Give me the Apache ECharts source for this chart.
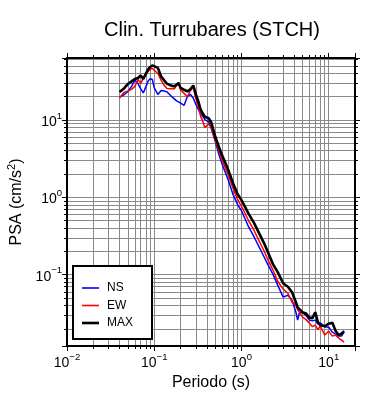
<!DOCTYPE html>
<html>
<head>
<meta charset="utf-8">
<title>Clin. Turrubares (STCH)</title>
<script src="https://cdn.jsdelivr.net/npm/echarts@6/dist/echarts.min.js"></script>
<style>
  body { margin: 0; background: #fff; }
  #main { width: 390px; height: 400px; }
</style>
</head>
<body>
<div id="main"></div>
<script type="text/javascript">
// periodos (s)
var periodos = [0.04, 0.045, 0.05, 0.055, 0.06, 0.065, 0.07, 0.075, 0.08, 0.085, 0.09, 0.095,
  0.1, 0.11, 0.12, 0.13, 0.14, 0.15, 0.16, 0.17, 0.18, 0.19, 0.2,
  0.22, 0.24, 0.26, 0.28, 0.3, 0.32, 0.34, 0.36, 0.38, 0.4,
  0.42, 0.45, 0.5, 0.55, 0.6, 0.7, 0.8, 0.9, 1.0,
  1.2, 1.4, 1.6, 1.8, 2.0, 2.3, 2.6, 3.0,
  3.4, 3.8, 4.2, 4.4, 4.6, 5.0, 5.5, 6.0, 6.5, 7.0, 7.5, 8.0,
  9, 10, 11, 12, 13, 14, 15];

// PSA (cm/s2)
var ns = [19.7, 21.1, 23.3, 27.1, 32.8, 29.6, 25.1, 22.3, 26.7, 31.8, 34.0, 33.3,
  25.9, 21.3, 24.0, 23.6, 23.0, 21.3, 19.8, 18.7, 17.6, 17.1, 16.8,
  15.4, 20.1, 21.3, 19.2, 15.8, 13.6, 12.1, 11.1, 10.1, 9.57,
  9.42, 7.76, 5.3, 3.59, 2.67, 1.71, 1.09, 0.81, 0.67,
  0.42, 0.305, 0.226, 0.173, 0.136, 0.101, 0.0733, 0.0513,
  0.0543, 0.0469, 0.033, 0.0259, 0.0318, 0.0328, 0.0296, 0.0259, 0.0255, 0.0259, 0.023, 0.0239,
  0.0213, 0.021, 0.0181, 0.0171, 0.0161, 0.0161, 0.0181];

var ew = [19.2, 22.6, 23.7, 24.8, 27.1, 33.3, 29.6, 34.3, 38.1, 42.3, 44.9, 46.2,
  45.8, 39.8, 32.4, 27.9, 25.5, 25.3, 25.5, 25.1, 27.9, 30.5, 24.4,
  22.0, 19.8, 24.0, 26.7, 18.9, 14.9, 11.1, 9.56, 8.0, 7.9,
  8.8, 8.1, 5.43, 4.04, 3.0, 1.98, 1.31, 0.94, 0.766,
  0.505, 0.37, 0.27, 0.207, 0.158, 0.114, 0.0824, 0.065,
  0.0577, 0.0442, 0.0398, 0.0353, 0.0328, 0.0283, 0.0263, 0.0237, 0.0213, 0.0223, 0.0195, 0.0216,
  0.0166, 0.0187, 0.0161, 0.0166, 0.0152, 0.0143, 0.0135];

var maxv = [22.9, 25.5, 29.2, 31.4, 33.8, 34.8, 37.5, 33.8, 39.4, 44.9, 48.3, 50.5,
  51.3, 46.9, 36.4, 32.4, 29.3, 28.3, 27.6, 27.1, 28.3, 30.0, 25.9,
  24.5, 23.3, 24.8, 27.9, 21.3, 17.3, 13.6, 12.1, 11.0, 10.8,
  10.5, 9.3, 6.1, 4.5, 3.48, 2.30, 1.52, 1.1, 0.92,
  0.62, 0.46, 0.339, 0.26, 0.198, 0.136, 0.108, 0.0776,
  0.070, 0.0594, 0.0442, 0.0378, 0.0364, 0.0328, 0.0316, 0.0279, 0.0275, 0.0328, 0.0244, 0.0223,
  0.0216, 0.0233, 0.0239, 0.0187, 0.0166, 0.0173, 0.0187];

var xMin = 0.01, xMax = 20;
var yMin = 0.012, yMax = 63;

var FONT = 'Liberation Sans';
var GRIS = '#8a8a8a';

// etiqueta 10^n con superindice
function potencia(v) {
    var e = Math.log10(v), n = Math.round(e);
    if (Math.abs(e - n) > 1e-6) return '';
    return '{b|10}{s|' + (n < 0 ? '\u2212' + (-n) : n) + '}';
}

var richSup = {
    b: { fontSize: 14, fontFamily: FONT, color: '#000', lineHeight: 18, verticalAlign: 'bottom' },
    s: { fontSize: 9.5, fontFamily: FONT, color: '#000', lineHeight: 18, verticalAlign: 'top' }
};

function ejeLog(pos, min, max, principal) {
    return {
        type: 'log',
        logBase: 10,
        position: pos,
        min: min,
        max: max,
        axisLine: { show: true, onZero: false, lineStyle: { color: '#000', width: 2 } },
        axisTick: { show: true, inside: false, length: 5, lineStyle: { color: '#000', width: 1 } },
        minorTick: { show: true, splitNumber: 9, length: 3, lineStyle: { color: '#000', width: 1 } },
        splitLine: { show: principal, lineStyle: { color: GRIS, width: 1 } },
        minorSplitLine: { show: principal, lineStyle: { color: GRIS, width: 1 } },
        axisLabel: { show: principal, formatter: potencia, rich: richSup, margin: 6 }
    };
}

var myChart = echarts.init(document.getElementById('main'));

var ejeX = ejeLog('bottom', xMin, xMax, true);
ejeX.name = 'Periodo (s)';
ejeX.nameLocation = 'middle';
ejeX.nameGap = 27;
ejeX.nameTextStyle = { fontSize: 16, fontFamily: FONT, color: '#000' };

var ejeY = ejeLog('left', yMin, yMax, true);
ejeY.name = 'PSA (cm/s{s|2})';
ejeY.nameLocation = 'middle';
ejeY.nameGap = 38;
ejeY.nameTextStyle = {
    fontSize: 16, fontFamily: FONT, color: '#000',
    rich: { s: { fontSize: 11, fontFamily: FONT, color: '#000', verticalAlign: 'top', lineHeight: 20 } }
};
ejeY.axisLabel.margin = 5;

var option = {
    animation: false,
    backgroundColor: '#fff',
    textStyle: { fontFamily: FONT },
    title: {
        text: 'Clin. Turrubares (STCH)',
        left: 104,
        top: 20,
        padding: 0,
        textStyle: { fontSize: 20, fontWeight: 'normal', fontFamily: FONT, color: '#000' }
    },
    grid: { left: 67, right: 35, top: 58, bottom: 54, containLabel: false, outerBoundsMode: 'none' },
    legend: {
        data: [
            { name: 'NS', icon: 'path://M0,0h17v1.6h-17z' },
            { name: 'EW', icon: 'path://M0,0h17v1.6h-17z' },
            { name: 'MAX', icon: 'path://M0,0h17v2.6h-17z' }
        ],
        orient: 'vertical',
        left: 73,
        top: 266,
        itemWidth: 17,
        itemHeight: 12,
        itemGap: 5.5,
        padding: [16, 19, 10, 9],
        backgroundColor: '#fff',
        borderColor: '#000',
        borderWidth: 2,
        borderRadius: 0,
        textStyle: { fontSize: 12, fontFamily: FONT, color: '#000', padding: [0, 0, 0, 3] }
    },
    xAxis: [ejeX, ejeLog('top', xMin, xMax, false)],
    yAxis: [ejeY, ejeLog('right', yMin, yMax, false)],
    series: [{
        name: 'NS',
        type: 'line',
        symbol: 'none',
        color: '#0000ff',
        lineStyle: { color: '#0000ff', width: 1.5 },
        data: periodos.map(function (t, i) { return [t, ns[i]]; })
    }, {
        name: 'EW',
        type: 'line',
        symbol: 'none',
        color: '#ff0000',
        lineStyle: { color: '#ff0000', width: 1.5 },
        data: periodos.map(function (t, i) { return [t, ew[i]]; })
    }, {
        name: 'MAX',
        type: 'line',
        symbol: 'none',
        color: '#000',
        lineStyle: { color: '#000', width: 2.6 },
        data: periodos.map(function (t, i) { return [t, maxv[i]]; })
    }]
};
myChart.setOption(option);
</script>
</body>
</html>
